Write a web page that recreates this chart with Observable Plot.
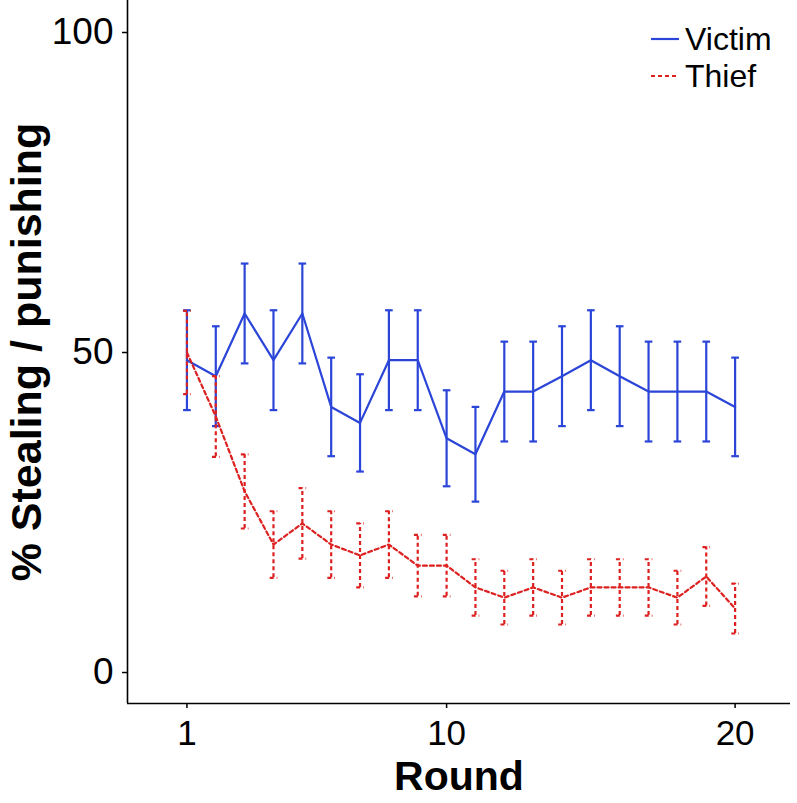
<!DOCTYPE html>
<html>
<head>
<meta charset="utf-8">
<script src="https://cdn.jsdelivr.net/npm/d3@7"></script>
<script src="https://cdn.jsdelivr.net/npm/@observablehq/plot@0.6"></script>
<style>
  html, body { margin: 0; padding: 0; background: #fff; }
  #wrap { position: relative; width: 797px; height: 803px; font-family: "Liberation Sans", Arial, Helvetica, sans-serif; }
  #legend { position: absolute; left: 650px; top: 20px; }
  .row { display: flex; align-items: center; height: 37px; color: #000; }
  .row svg { margin-right: 5px; }
  .row span { display: inline-block; font-size: 32px; line-height: 32px; height: 32px; }
</style>
</head>
<body>
<div id="wrap"></div>
<script>
// ---- data ----
const rounds = [1,2,3,4,5,6,7,8,9,10,11,12,13,14,15,16,17,18,19,20];
const victimMean = [48.8,46.3,56.1,48.8,56.1,41.5,39.0,48.8,48.8,36.6,34.1,43.9,43.9,46.3,48.8,46.3,43.9,43.9,43.9,41.5];
const victimErr  = [7.8,7.8,7.8,7.8,7.8,7.7,7.6,7.8,7.8,7.5,7.4,7.8,7.8,7.8,7.8,7.8,7.8,7.8,7.8,7.7];
const thiefMean  = [50.0,40.0,28.3,20.0,23.3,20.0,18.3,20.0,16.7,16.7,13.3,11.7,13.3,11.7,13.3,13.3,13.3,11.7,15.0,10.0];
const thiefErr   = [6.5,6.3,5.8,5.2,5.5,5.2,5.0,5.2,4.8,4.8,4.4,4.2,4.4,4.2,4.4,4.4,4.4,4.2,4.6,3.9];
const seriesNames = ["Victim", "Thief"];
const seriesColors = ["#2b45d8", "#dd2020"];
const xTicks = [1, 10, 20];
const yTicks = [0, 50, 100];
const xTitle = "Round";
const yTitle = "% Stealing / punishing";

const xDomain = [-1.06, 21.92];
const yDomain = [-4.84, 105];

const victim = rounds.map((r, i) => ({r, m: victimMean[i], e: victimErr[i]}));
const thief  = rounds.map((r, i) => ({r, m: thiefMean[i], e: thiefErr[i]}));

// horizontal-line symbol for error-bar caps
const capSymbol = {
  draw(ctx, size) {
    const w = Math.sqrt(size) / 2;
    ctx.moveTo(-w, 0); ctx.lineTo(w, 0);
  }
};

function seriesMarks(data, color, dash) {
  const common = {stroke: color, strokeWidth: 2.2, strokeDasharray: dash};
  return [
    Plot.ruleX(data, {x: "r", y1: d => d.m - d.e, y2: d => d.m + d.e, ...common}),
    Plot.dot(data, {x: "r", y: d => d.m + d.e, symbol: capSymbol, r: 4.3, fill: "none", ...common}),
    Plot.dot(data, {x: "r", y: d => d.m - d.e, symbol: capSymbol, r: 4.3, fill: "none", ...common}),
    Plot.line(data, {x: "r", y: "m", ...common})
  ];
}

const chart = Plot.plot({
  width: 797,
  height: 803,
  marginLeft: 127,
  marginRight: 7,
  marginTop: 0,
  marginBottom: 100,
  x: {type: "linear", domain: xDomain, axis: null},
  y: {type: "linear", domain: yDomain, axis: null},
  style: {fontFamily: "Liberation Sans, Arial, Helvetica, sans-serif", background: "#fff", color: "#000"},
  marks: [
    Plot.axisY({ticks: yTicks, tickSize: 5, tickPadding: 9, fontSize: 37, label: null, stroke: "#000", strokeWidth: 1.5, fill: "#000"}),
    Plot.axisX({ticks: xTicks, tickSize: 5, tickPadding: 12, fontSize: 35, label: null, stroke: "#000", strokeWidth: 1.5, fill: "#000"}),
    Plot.ruleX([xDomain[0]], {stroke: "#000", strokeWidth: 1.6}),
    Plot.ruleY([yDomain[0]], {stroke: "#000", strokeWidth: 1.6}),
    ...seriesMarks(victim, seriesColors[0], null),
    ...seriesMarks(thief, seriesColors[1], "4,3"),
    Plot.text([yTitle], {text: d => d, frameAnchor: "left", dx: -100, rotate: -90, textAnchor: "middle", lineAnchor: "middle", fontSize: 43, fontWeight: "bold", fill: "#000"}),
    Plot.text([xTitle], {text: d => d, frameAnchor: "bottom", dy: 73, lineAnchor: "middle", fontSize: 41, fontWeight: "bold", fill: "#000"})
  ]
});

const wrap = document.getElementById("wrap");
wrap.appendChild(chart);

// legend
const legend = document.createElement("div");
legend.id = "legend";
seriesNames.forEach((name, i) => {
  const row = document.createElement("div");
  row.className = "row";
  const dash = i === 1 ? ' stroke-dasharray="4,3"' : '';
  row.innerHTML = `<svg width="30" height="10"><line x1="1" x2="29" y1="5" y2="5" stroke="${seriesColors[i]}" stroke-width="2.2"${dash}/></svg><span>${name}</span>`;
  legend.appendChild(row);
});
wrap.appendChild(legend);
</script>
</body>
</html>
